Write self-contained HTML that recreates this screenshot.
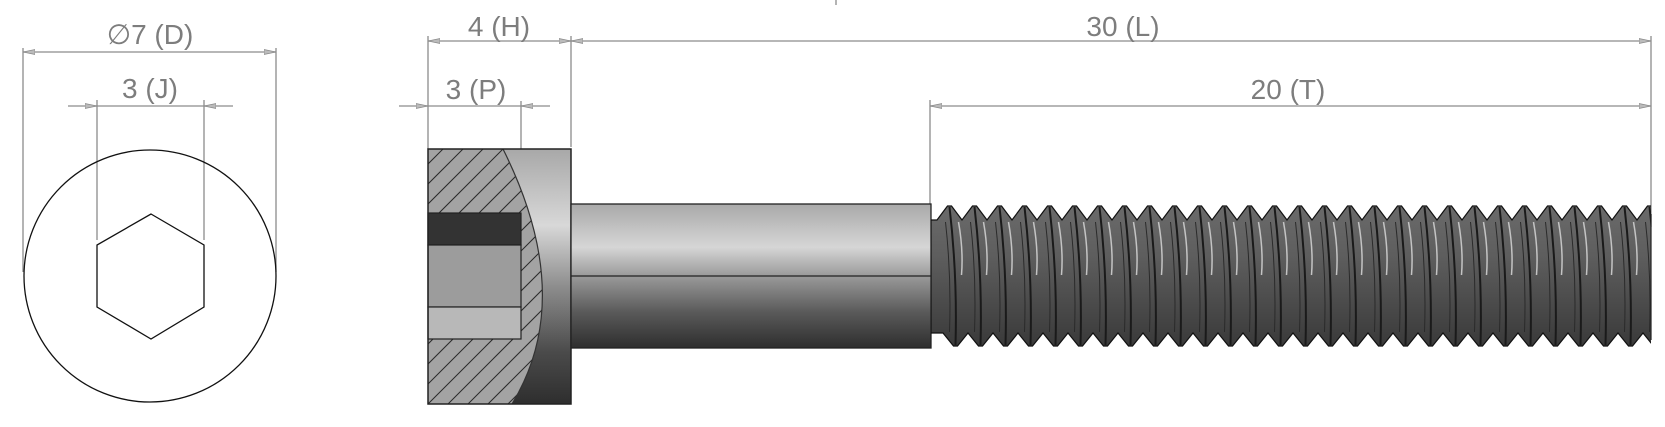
<!DOCTYPE html>
<html><head><meta charset="utf-8"><style>
html,body{margin:0;padding:0;background:#fff;}
svg{display:block;}
text{font-family:"Liberation Sans",sans-serif;font-size:28px;fill:#7d7d7d;}
</style></head><body>
<svg id="s" width="1665" height="427" viewBox="0 0 1665 427" xmlns="http://www.w3.org/2000/svg">
<defs>
<linearGradient id="shank" x1="0" y1="0" x2="0" y2="1">
<stop offset="0" stop-color="#a9a9a9"/><stop offset="0.3" stop-color="#d6d6d6"/><stop offset="0.5" stop-color="#9a9a9a"/><stop offset="0.75" stop-color="#5a5a5a"/><stop offset="1" stop-color="#2e2e2e"/>
</linearGradient>
<linearGradient id="ring" x1="0" y1="0" x2="0" y2="1">
<stop offset="0" stop-color="#a8a8a8"/><stop offset="0.3" stop-color="#d8d8d8"/><stop offset="0.55" stop-color="#8a8a8a"/><stop offset="0.8" stop-color="#4a4a4a"/><stop offset="1" stop-color="#2e2e2e"/>
</linearGradient>
<linearGradient id="thr" x1="0" y1="0" x2="0" y2="1">
<stop offset="0" stop-color="#6a6a6a"/><stop offset="0.35" stop-color="#5e5e5e"/><stop offset="1" stop-color="#3a3a3a"/>
</linearGradient>
<clipPath id="hc"><path d="M428,149 L503,149 Q577,297 512,404 L428,404 Z"/></clipPath>
<clipPath id="tc"><rect x="931" y="190" width="720" height="170"/></clipPath>
<marker id="a" viewBox="0 0 12 6" refX="12" refY="3" markerWidth="12" markerHeight="6" markerUnits="userSpaceOnUse" orient="auto-start-reverse"><path d="M0,0.5 L12,3 L0,5.5 Z" fill="#bbb" stroke="#888" stroke-width="0.8"/></marker>
</defs>
<g stroke="#8c8c8c" stroke-width="1.3" fill="none">
<line x1="23" y1="48" x2="23" y2="272"/><line x1="276" y1="48" x2="276" y2="272"/>
<line x1="23" y1="52" x2="276" y2="52" marker-start="url(#a)" marker-end="url(#a)"/>
<line x1="97" y1="100" x2="97" y2="240"/><line x1="204" y1="100" x2="204" y2="240"/>
<line x1="68" y1="106" x2="97" y2="106" marker-end="url(#a)"/><line x1="233" y1="106" x2="204" y2="106" marker-end="url(#a)"/>
<line x1="97" y1="106" x2="204" y2="106"/>
<line x1="428" y1="36" x2="428" y2="149"/><line x1="571" y1="36" x2="571" y2="147"/>
<line x1="428" y1="41" x2="571" y2="41" marker-start="url(#a)" marker-end="url(#a)"/>
<line x1="571" y1="41" x2="1651" y2="41" marker-start="url(#a)" marker-end="url(#a)"/>
<line x1="1651" y1="36" x2="1651" y2="227"/>
<line x1="836" y1="0" x2="836" y2="5"/>
<line x1="521" y1="101" x2="521" y2="149"/>
<line x1="399" y1="106" x2="428" y2="106" marker-end="url(#a)"/><line x1="550" y1="106" x2="521" y2="106" marker-end="url(#a)"/>
<line x1="428" y1="106" x2="521" y2="106"/>
<line x1="930" y1="100" x2="930" y2="204"/>
<line x1="930" y1="106" x2="1651" y2="106" marker-start="url(#a)" marker-end="url(#a)"/>
</g>
<text x="150" y="44" text-anchor="middle">∅7 (D)</text>
<text x="150" y="98" text-anchor="middle">3 (J)</text>
<text x="499" y="36" text-anchor="middle">4 (H)</text>
<text x="476" y="99" text-anchor="middle">3 (P)</text>
<text x="1123" y="36" text-anchor="middle">30 (L)</text>
<text x="1288" y="99" text-anchor="middle">20 (T)</text>
<circle cx="150" cy="276" r="126" fill="none" stroke="#111" stroke-width="1.3"/>
<polygon points="151,214 204,245 204,307 151,339 97,307 97,245" fill="none" stroke="#111" stroke-width="1.3"/>
<rect x="428" y="149" width="143" height="255" fill="url(#ring)"/>
<g clip-path="url(#hc)">
<rect x="428" y="149" width="150" height="255" fill="#a3a3a3"/>
<g id="hatch" stroke="#2a2a2a" stroke-width="1"></g>
</g>
<path d="M503,149 Q577,297 512,404" fill="none" stroke="#333" stroke-width="1.2"/>
<rect x="428" y="213" width="93" height="32" fill="#333" stroke="#222" stroke-width="1.2"/>
<rect x="428" y="245" width="93" height="62" fill="#9c9c9c" stroke="#222" stroke-width="1.2"/>
<rect x="428" y="307" width="93" height="32" fill="#b8b8b8" stroke="#222" stroke-width="1.2"/>
<rect x="428" y="149" width="143" height="255" fill="none" stroke="#222" stroke-width="1.5"/>
<rect x="571" y="204" width="360" height="144" fill="url(#shank)" stroke="#222" stroke-width="1.3"/>
<line x1="571" y1="276" x2="931" y2="276" stroke="#222" stroke-width="1.3"/>
<g id="thread" clip-path="url(#tc)"></g>
<line x1="1651" y1="214" x2="1651" y2="340" stroke="#222" stroke-width="1.2"/>
</svg>
<script>
var NS="http://www.w3.org/2000/svg";
var h=document.getElementById('hatch');
for(var k=-300;k<400;k+=20){var l=document.createElementNS(NS,'line');l.setAttribute('x1',428+k);l.setAttribute('y1',404);l.setAttribute('x2',428+k+255);l.setAttribute('y2',149);h.appendChild(l);}
var g=document.getElementById('thread');
var p=25,x0=931,x1=1680,pts=[];
pts.push([x0,220]);
for(var x=x0;x<x1;x+=p){pts.push([x+6,220]);pts.push([x+p/2+4,206]);pts.push([x+p/2+8,206]);}
pts.push([x1,220]);pts.push([x1,333]);
var bot=[];
for(var x=x0;x<x1;x+=p){bot.push([x+12,333]);bot.push([x+p/2+10,346]);bot.push([x+p/2+14,346]);}
bot.reverse();bot.forEach(function(q){pts.push(q);});
pts.push([x0,333]);
var poly=document.createElementNS(NS,'polygon');
poly.setAttribute('points',pts.map(function(q){return q.join(',')}).join(' '));
poly.setAttribute('fill','url(#thr)');poly.setAttribute('stroke','#111');poly.setAttribute('stroke-width','1.2');
g.appendChild(poly);
for(var x=x0;x<x1;x+=p){
 var xa=x+p/2+6;
 var a=document.createElementNS(NS,'path');a.setAttribute('d','M'+xa+',207 Q'+(xa+8)+',276 '+(xa+6)+',345');a.setAttribute('fill','none');a.setAttribute('stroke','#1a1a1a');a.setAttribute('stroke-width','2');g.appendChild(a);
 var b=document.createElementNS(NS,'path');b.setAttribute('d','M'+(xa+9)+',222 Q'+(xa+14)+',250 '+(xa+12)+',275');b.setAttribute('fill','none');b.setAttribute('stroke','#c4c4c4');b.setAttribute('stroke-width','1.5');g.appendChild(b);
 var c=document.createElementNS(NS,'path');c.setAttribute('d','M'+(xa-4)+',222 Q'+(xa+2)+',276 '+(xa)+',332');c.setAttribute('fill','none');c.setAttribute('stroke','#2a2a2a');c.setAttribute('stroke-width','1');g.appendChild(c);
}
</script>
</body></html>
